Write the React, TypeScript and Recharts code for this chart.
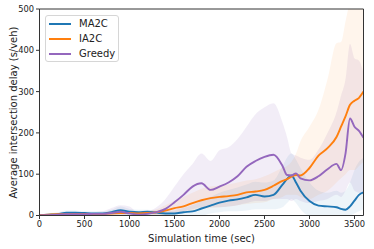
import React from "react";
import { ComposedChart, Area, Line, XAxis, YAxis, ReferenceLine, Label } from "recharts";

// simulation time (sec)
const times = [0, 100, 200, 300, 400, 500, 600, 700, 800, 900, 1000, 1100, 1200, 1300, 1400, 1500, 1600, 1700, 1800, 1900, 2000, 2100, 2200, 2300, 2400, 2500, 2600, 2700, 2750, 2800, 2850, 2900, 3000, 3100, 3200, 3300, 3350, 3400, 3450, 3500, 3550, 3600];

// mean delay per method
const ma2c = [1, 2, 3, 7, 7, 6, 5, 5, 8, 13, 9, 8, 9, 7, 5, 5, 8, 10, 17, 24, 31, 36, 39, 44, 50, 46, 50, 75, 88, 97, 80, 60, 35, 24, 22, 20, 16, 14, 22, 36, 50, 56];
const ia2c = [1, 2, 3, 3, 4, 4, 4, 4, 5, 6, 6, 5, 6, 8, 12, 18, 22, 30, 37, 42, 45, 47, 50, 56, 58, 62, 72, 84, 88, 94, 98, 97, 115, 145, 163, 190, 215, 240, 268, 278, 285, 300];
const greedy = [0, 1, 2, 3, 3, 3, 4, 4, 6, 9, 5, 2, 4, 8, 16, 32, 50, 70, 78, 62, 70, 80, 95, 118, 132, 142, 147, 120, 98, 97, 102, 90, 85, 95, 112, 125, 110, 150, 235, 215, 205, 188];

// spread (lower / upper)
const ma2cLo = [0, 0, 0, 0, 0, 0, 0, 0, 0, 2, 0, 0, 0, 0, 0, 0, 0, 0, 0, 5, 8, 10, 10, 12, 15, 15, 15, 20, 30, 40, 30, 15, 0, 0, 0, 0, 0, 0, 0, 5, 10, 15];
const ma2cHi = [3, 5, 8, 12, 12, 10, 10, 10, 14, 22, 16, 14, 14, 12, 10, 12, 18, 25, 35, 45, 55, 62, 68, 75, 82, 80, 85, 120, 140, 150, 135, 115, 80, 60, 55, 60, 55, 60, 80, 110, 130, 140];
const ia2cLo = [0, 0, 0, 0, 0, 0, 0, 0, 0, 0, 0, 0, 0, 0, 2, 5, 8, 10, 15, 18, 20, 22, 25, 28, 30, 32, 40, 45, 50, 50, 50, 45, 40, 50, 60, 80, 90, 100, 110, 110, 120, 130];
const ia2cHi = [3, 4, 5, 6, 6, 6, 6, 6, 8, 10, 10, 8, 10, 15, 25, 35, 45, 55, 65, 70, 72, 75, 80, 85, 88, 95, 105, 115, 120, 130, 150, 180, 215, 256, 330, 417, 420, 470, 520, 560, 560, 560];
const greedyLo = [0, 0, 0, 0, 0, 0, 0, 0, 0, 0, 0, 0, 0, 0, 2, 5, 10, 15, 20, 20, 20, 22, 25, 30, 35, 35, 40, 40, 40, 35, 40, 35, 30, 35, 40, 50, 45, 60, 80, 60, 55, 50];
const greedyHi = [2, 3, 4, 6, 6, 6, 8, 10, 18, 25, 22, 6, 10, 20, 40, 70, 100, 125, 150, 132, 158, 165, 185, 215, 245, 262, 272, 225, 190, 150, 145, 140, 135, 160, 200, 250, 290, 330, 415, 380, 375, 345];

const xTicks = [0, 500, 1000, 1500, 2000, 2500, 3000, 3500];
const yTicks = [0, 100, 200, 300, 400, 500];

const BLUE = "#1f77b4";
const ORANGE = "#ff7f0e";
const PURPLE = "#9467bd";
const FONT = "DejaVu Sans, sans-serif";

const rows = times.map((t, i) => ({
  t,
  ma2c: ma2c[i],
  ia2c: ia2c[i],
  greedy: greedy[i],
  ma2cBand: [ma2cLo[i], ma2cHi[i]],
  ia2cBand: [ia2cLo[i], ia2cHi[i]],
  greedyBand: [greedyLo[i], greedyHi[i]],
}));

const legendItems = [
  { name: "MA2C", color: BLUE },
  { name: "IA2C", color: ORANGE },
  { name: "Greedy", color: PURPLE },
];

const ChartLegend = () => (
  <div
    style={{
      position: "absolute",
      left: 45,
      top: 15,
      width: 74,
      height: 47,
      boxSizing: "border-box",
      border: "1px solid #d6d6d6",
      borderRadius: 3,
      background: "rgba(255,255,255,0.85)",
      fontFamily: FONT,
      fontSize: 10,
      color: "#222",
    }}
  >
    {legendItems.map((it, i) => (
      <div key={it.name} style={{ position: "absolute", left: 0, top: 1 + i * 15, height: 14, width: 72 }}>
        <svg width={30} height={14} style={{ position: "absolute", left: 0, top: 0 }}>
          <line x1={3} x2={25} y1={7} y2={7} stroke={it.color} strokeWidth={2} />
        </svg>
        <span style={{ position: "absolute", left: 33, top: 0, lineHeight: "14px" }}>{it.name}</span>
      </div>
    ))}
  </div>
);

export default function App() {
  return (
    <div style={{ position: "absolute", left: 0, top: 0, width: 374, height: 249 }}>
      <ComposedChart width={374} height={249} data={rows} margin={{ top: 9, right: 10.5, left: 0, bottom: 0 }}>
        <XAxis
          dataKey="t"
          type="number"
          domain={[0, 3600]}
          ticks={xTicks}
          allowDataOverflow
          height={33.5}
          tickSize={3.5}
          stroke="#333"
          tick={{ fontSize: 8.3, fill: "#222", fontFamily: FONT }}
        >
          <Label
            content={() => (
              <text x={201.5} y={238} textAnchor="middle" dominantBaseline="central" fontSize={10} fontFamily={FONT} fill="#222">
                Simulation time (sec)
              </text>
            )}
          />
        </XAxis>
        <YAxis
          type="number"
          domain={[0, 500]}
          ticks={yTicks}
          allowDataOverflow
          width={39.5}
          tickSize={3.5}
          stroke="#333"
          tick={{ fontSize: 8.3, fill: "#222", fontFamily: FONT }}
        >
          <Label
            content={() => (
              <text
                x={13}
                y={112.5}
                transform="rotate(-90 13 112.5)"
                textAnchor="middle"
                dominantBaseline="central"
                fontSize={10}
                fontFamily={FONT}
                fill="#222"
              >
                Average intersection delay (s/veh)
              </text>
            )}
          />
        </YAxis>
        <Area dataKey="greedyBand" type="monotone" stroke="none" fill={PURPLE} fillOpacity={0.12} isAnimationActive={false} />
        <Area dataKey="ia2cBand" type="monotone" stroke="none" fill={ORANGE} fillOpacity={0.08} isAnimationActive={false} />
        <Area dataKey="ma2cBand" type="monotone" stroke="none" fill={BLUE} fillOpacity={0.08} isAnimationActive={false} />
        <Line dataKey="ma2c" type="monotone" stroke={BLUE} strokeWidth={1.9} dot={false} isAnimationActive={false} />
        <Line dataKey="ia2c" type="monotone" stroke={ORANGE} strokeWidth={1.9} dot={false} isAnimationActive={false} />
        <Line dataKey="greedy" type="monotone" stroke={PURPLE} strokeWidth={1.9} dot={false} isAnimationActive={false} />
        <ReferenceLine y={500} stroke="#333" ifOverflow="visible" />
        <ReferenceLine x={3600} stroke="#333" ifOverflow="visible" />
      </ComposedChart>
      <ChartLegend />
    </div>
  );
}
